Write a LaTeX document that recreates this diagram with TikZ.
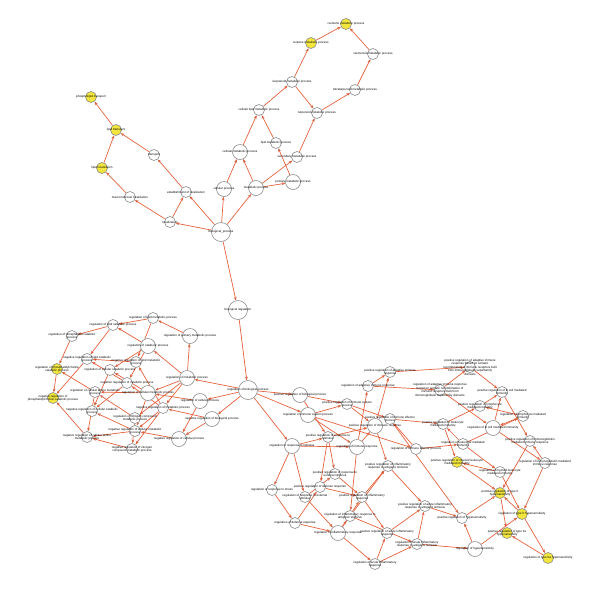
\documentclass[tikz,border=0pt]{standalone}
\usepackage{fontspec}
\setmainfont{Liberation Sans}
\usepackage{tikz}
\usetikzlibrary{arrows.meta, backgrounds}
\definecolor{edgered}{RGB}{228,98,62}
\definecolor{hityellow}{RGB}{242,230,62}
\definecolor{ringgray}{RGB}{140,140,140}

\begin{document}
\begin{tikzpicture}[x=1pt, y=-1pt,
    term/.style={circle, draw=ringgray, fill=white, line width=0.6pt, minimum size=11pt, inner sep=0pt},
    hub/.style={term, minimum size=15pt},
    bighub/.style={term, minimum size=19pt},
    hit/.style={term, fill=hityellow},
    lbl/.style={font=\fontsize{3.0}{3.5}\selectfont, align=center, inner sep=0pt},
    arrow/.style={draw=edgered, line width=0.7pt, -{Stealth[length=3.6pt, width=2.8pt]}}
]
\useasboundingbox (0,0) rectangle (600,590);

% Upper part: processes, localization and metabolism
\node[bighub, label={[lbl]center:biological\_process}] (bp) at (221,232) {};
\node[bighub, label={[lbl]center:biological regulation}] (br) at (238,310) {};
\node[term, label={[lbl]center:localization}] (loc) at (170,222) {};
\node[term, label={[lbl]center:establishment of localization}] (eloc) at (186,192) {};
\node[term, label={[lbl]center:macromolecule localization}] (mloc) at (130,197) {};
\node[term, label={[lbl]center:transport}] (tr) at (154,155) {};
\node[hit, label={[lbl]center:lipid localization}] (lloc) at (102,168) {};
\node[hit, label={[lbl]center:lipid transport}] (ltr) at (116,130) {};
\node[hit, label={[lbl]center:phospholipid transport}] (pltr) at (91,97) {};
\node[hub, label={[lbl]center:cellular process}] (cp) at (224,189) {};
\node[hub, label={[lbl]center:metabolic process}] (mp) at (256,188) {};
\node[hub, label={[lbl]center:cellular metabolic process}] (cmp) at (240,152) {};
\node[hub, label={[lbl]center:primary metabolic process}] (pmp) at (293,182) {};
\node[term, label={[lbl]center:secondary metabolic process}] (smp) at (297,157) {};
\node[term, label={[lbl]center:lipid metabolic process}] (lmp) at (276,143) {};
\node[term, label={[lbl]center:cellular lipid metabolic process}] (clmp) at (259,110) {};
\node[term, label={[lbl]center:isoprenoid metabolic process}] (iso) at (292,82) {};
\node[term, label={[lbl]center:terpenoid metabolic process}] (terp) at (317,113) {};
\node[term, label={[lbl]center:tetraterpenoid metabolic process}] (tetra) at (355,90) {};
\node[term, label={[lbl]center:carotenoid metabolic process}] (carnoid) at (373,54) {};
\node[hit, label={[lbl]center:terpene metabolic process}] (terpene) at (311,43) {};
\node[hit, label={[lbl]center:carotene metabolic process}] (carot) at (346,24) {};

% Left part: regulation of metabolism
\node[bighub, label={[lbl]center:regulation of biological process}] (rbp) at (248,390) {};
\node[hub, label={[lbl]center:regulation of metabolic process}] (rmp) at (187,378) {};
\node[hub, label={[lbl]center:regulation of cellular process}] (rcp) at (200,401) {};
\node[hub, label={[lbl]center:negative regulation of biological process}] (nrbp) at (212,419) {};
\node[hub, label={[lbl]center:negative regulation of cellular process}] (nrcp) at (179,439) {};
\node[hub, label={[lbl]center:regulation of primary metabolic process}] (rpmp) at (190,336) {};
\node[term, label={[lbl]center:regulation of lipid metabolic process}] (rlmp) at (153,318) {};
\node[term, label={[lbl]center:regulation of lipid catabolic process}] (rlcp) at (113,325) {};
\node[hub, label={[lbl]center:regulation of catabolic process}] (rcatp) at (148,346) {};
\node[term, label={[lbl]center:regulation of phospholipid catabolic\\process}] (rplcp) at (72,336) {};
\node[hit, label={[lbl]center:regulation of phosphatidylcholine\\catabolic process}] (rpccp) at (57,369) {};
\node[hit, label={[lbl]center:negative regulation of\\phosphatidylcholine catabolic process}] (nrpccp) at (53,398) {};
\node[term, label={[lbl]center:negative regulation of lipid catabolic\\process}] (nrlcp) at (87,359) {};
\node[term, label={[lbl]center:negative regulation of lipid metabolic\\process}] (nrlmp) at (136,362) {};
\node[term, label={[lbl]center:regulation of cellular catabolic process}] (rccatp) at (110,370) {};
\node[term, label={[lbl]center:negative regulation of catabolic process}] (nrcatp) at (127,383) {};
\node[term, label={[lbl]center:regulation of cellular amine metabolic\\process}] (rcamp) at (95,392) {};
\node[hub, label={[lbl]center:regulation of cellular metabolic process}] (rcmp) at (148,393) {};
\node[term, label={[lbl]center:negative regulation of metabolic process}] (nrmp) at (163,408) {};
\node[term, label={[lbl]center:negative regulation of cellular catabolic\\process}] (nrccatp) at (92,411) {};
\node[term, label={[lbl]center:regulation of nitrogen compound\\metabolic process}] (rncmp) at (135,418) {};
\node[term, label={[lbl]center:negative regulation of cellular metabolic\\process}] (nrcmp) at (135,431) {};
\node[term, label={[lbl]center:negative regulation of cellular amine\\metabolic process}] (nrcamp) at (87,437) {};
\node[term, label={[lbl]center:negative regulation of nitrogen\\compound metabolic process}] (nrncmp) at (132,449) {};

% Right part: regulation of immune and inflammatory responses
\node[hub, label={[lbl]center:positive regulation of biological process}] (prbp) at (300,395) {};
\node[hub, label={[lbl]center:regulation of immune system process}] (risp) at (308,415) {};
\node[term, label={[lbl]center:positive regulation of immune system\\process}] (pisp) at (347,404) {};
\node[term, label={[lbl]center:regulation of adaptive immune response}] (raim) at (368,386) {};
\node[term, label={[lbl]center:positive regulation of adaptive immune\\response}] (paim) at (390,372) {};
\node[term, label={[lbl]center:positive regulation of adaptive immune\\response based on somatic\\recombination of immune receptors built\\from immunoglobulin superfamily\\domains}] (pasr) at (470,367) {};
\node[term, label={[lbl]center:regulation of adaptive immune response\\based on somatic recombination of\\immune receptors built from\\immunoglobulin superfamily domains}] (rasr) at (440,390) {};
\node[term, label={[lbl]center:positive regulation of B cell mediated\\immunity}] (pbcell) at (502,392) {};
\node[term, label={[lbl]center:positive regulation of lymphocyte\\mediated immunity}] (plym) at (480,406) {};
\node[term, label={[lbl]center:regulation of lymphocyte mediated\\immunity}] (rlym) at (523,416) {};
\node[term, label={[lbl]center:positive regulation of leukocyte\\mediated immunity}] (pleuk) at (443,424) {};
\node[hub, label={[lbl]center:regulation of B cell mediated immunity}] (rbcell) at (493,428) {};
\node[term, label={[lbl]center:positive regulation of immunoglobulin\\mediated immune response}] (pig) at (530,441) {};
\node[term, label={[lbl]center:regulation of leukocyte mediated\\immunity}] (rleuk) at (463,444) {};
\node[term, label={[lbl]center:regulation of immune effector process}] (riep) at (416,449) {};
\node[hub, label={[lbl]center:positive regulation of immune response}] (pimr) at (375,426) {};
\node[term, label={[lbl]center:positive regulation of immune effector\\process}] (piep) at (390,419) {};
\node[term, label={[lbl]center:positive regulation of response to\\stimulus}] (prs) at (328,437) {};
\node[hub, label={[lbl]center:regulation of response to stimulus}] (rrs) at (292,446) {};
\node[hub, label={[lbl]center:regulation of immune response}] (rimr) at (357,447) {};
\node[term, label={[lbl]center:regulation of immunoglobulin mediated\\immune response}] (rig) at (545,463) {};
\node[hit, label={[lbl]center:positive regulation of myeloid leukocyte\\mediated immunity}] (pmyel) at (457,462) {};
\node[term, label={[lbl]center:regulation of myeloid leukocyte\\mediated immunity}] (rmyel) at (500,472) {};
\node[hit, label={[lbl]center:positive regulation of type II\\hypersensitivity}] (pt2) at (500,493) {};
\node[hit, label={[lbl]center:regulation of type II hypersensitivity}] (rt2) at (522,514) {};
\node[term, label={[lbl]center:positive regulation of hypersensitivity}] (phyp) at (462,518) {};
\node[hit, label={[lbl]center:positive regulation of type IIa\\hypersensitivity}] (pt2a) at (507,533) {};
\node[hub, label={[lbl]center:regulation of hypersensitivity}] (rhyp) at (475,549) {};
\node[hit, label={[lbl]center:regulation of type IIa hypersensitivity}] (rt2a) at (548,558) {};
\node[term, label={[lbl]center:positive regulation of inflammatory\\response to antigenic stimulus}] (pirasa) at (388,466) {};
\node[term, label={[lbl]center:positive regulation of response to\\external stimulus}] (prext) at (335,474) {};
\node[term, label={[lbl]center:regulation of response to stress}] (rrstress) at (272,490) {};
\node[term, label={[lbl]center:positive regulation of defense response}] (pdef) at (320,487) {};
\node[term, label={[lbl]center:regulation of response to external\\stimulus}] (rrext) at (305,497) {};
\node[term, label={[lbl]center:positive regulation of inflammatory\\response}] (pir) at (362,497) {};
\node[term, label={[lbl]center:positive regulation of acute inflammatory\\response to antigenic stimulus}] (pairasa) at (425,506) {};
\node[term, label={[lbl]center:regulation of inflammatory response to\\antigenic stimulus}] (rirasa) at (350,516) {};
\node[term, label={[lbl]center:regulation of defense response}] (rdef) at (295,523) {};
\node[hub, label={[lbl]center:regulation of inflammatory response}] (rir) at (338,533) {};
\node[term, label={[lbl]center:positive regulation of acute inflammatory\\response}] (pair) at (387,533) {};
\node[term, label={[lbl]center:regulation of acute inflammatory\\response to antigenic stimulus}] (rairasa) at (417,544) {};
\node[term, label={[lbl]center:regulation of acute inflammatory\\response}] (rair) at (375,564) {};

% Connectors, parent to child, kept under the nodes
\begin{scope}[on background layer]
\draw[arrow] (bp) edge (loc) edge (eloc) edge (cp) edge (mp) edge (br);
\draw[arrow] (loc) edge (eloc) edge (mloc);
\draw[arrow] (eloc) edge (tr);
\draw[arrow] (mloc) edge (lloc);
\draw[arrow] (tr) edge (ltr);
\draw[arrow] (lloc) edge (ltr);
\draw[arrow] (ltr) edge (pltr);
\draw[arrow] (cp) edge (cmp);
\draw[arrow] (mp) edge (cmp) edge (pmp) edge (smp);
\draw[arrow] (cmp) edge (clmp);
\draw[arrow] (pmp) edge (lmp);
\draw[arrow] (lmp) edge (clmp);
\draw[arrow] (clmp) edge (iso);
\draw[arrow] (iso) edge (terpene) edge (terp);
\draw[arrow] (smp) edge (terp);
\draw[arrow] (terp) edge (tetra);
\draw[arrow] (tetra) edge (carnoid);
\draw[arrow] (carnoid) edge (carot);
\draw[arrow] (terpene) edge (carot);
\draw[arrow] (br) edge (rbp);
\draw[arrow] (rbp) edge (rmp) edge (rcp) edge (nrbp) edge (prbp) edge (risp) edge (rrs);
\draw[arrow] (rcp) edge (rcmp) edge (nrcp);
\draw[arrow] (nrbp) edge (nrcp) edge (nrmp);
\draw[arrow] (rmp) edge (rpmp) edge (rcatp) edge (rcmp) edge (nrmp) edge (rncmp);
\draw[arrow] (rpmp) edge (rlmp);
\draw[arrow] (rlmp) edge (rlcp) edge (nrlmp);
\draw[arrow] (rcatp) edge (rlcp) edge (rccatp) edge (nrcatp);
\draw[arrow] (rlcp) edge (rplcp) edge (nrlcp);
\draw[arrow] (rplcp) edge (rpccp);
\draw[arrow] (rpccp) edge (nrpccp);
\draw[arrow] (nrlcp) edge (nrpccp);
\draw[arrow] (nrlmp) edge (nrlcp);
\draw[arrow] (rccatp) edge (nrccatp);
\draw[arrow] (nrcatp) edge (nrlcp) edge (nrccatp);
\draw[arrow] (rcmp) edge (rccatp) edge (rcamp) edge (nrcmp);
\draw[arrow] (rcamp) edge (nrcamp) edge (rpccp);
\draw[arrow] (rncmp) edge (rcamp) edge (nrncmp);
\draw[arrow] (nrmp) edge (nrcatp) edge (nrlmp) edge (nrcmp) edge (nrncmp);
\draw[arrow] (nrcp) edge (nrcmp);
\draw[arrow] (nrcmp) edge (nrccatp) edge (nrcamp);
\draw[arrow] (nrncmp) edge (nrcamp);
\draw[arrow] (nrcamp) edge (nrpccp);
\draw[arrow] (prbp) edge (pisp) edge (prs);
\draw[arrow] (risp) edge (pisp) edge (rimr) edge (riep);
\draw[arrow] (pisp) edge (pimr) edge (piep);
\draw[arrow] (rrs) edge (rrstress) edge (rrext) edge (prs) edge (rimr);
\draw[arrow] (prs) edge (prext) edge (pimr) edge (pdef);
\draw[arrow] (rimr) edge (raim) edge (pimr) edge (rirasa);
\draw[arrow] (pimr) edge (paim) edge (pirasa);
\draw[arrow] (raim) edge (paim) edge (rasr);
\draw[arrow] (paim) edge (pasr);
\draw[arrow] (rasr) edge (pasr) edge (rbcell);
\draw[arrow] (riep) edge (rleuk) edge (piep);
\draw[arrow] (piep) edge (pleuk) edge (phyp);
\draw[arrow] (rleuk) edge (rlym) edge (rmyel) edge (pleuk);
\draw[arrow] (pleuk) edge (plym) edge (pmyel);
\draw[arrow] (rlym) edge (rbcell) edge (plym);
\draw[arrow] (plym) edge (pbcell);
\draw[arrow] (pasr) edge (pbcell);
\draw[arrow] (rbcell) edge (pbcell) edge (rig);
\draw[arrow] (pbcell) edge (pig);
\draw[arrow] (rig) edge (pig) edge (rt2);
\draw[arrow] (pig) edge (pt2);
\draw[arrow] (rmyel) edge (pmyel) edge (rt2);
\draw[arrow] (pmyel) edge (pt2);
\draw[arrow] (rt2) edge (pt2) edge (rt2a);
\draw[arrow] (pt2) edge (pt2a);
\draw[arrow] (rt2a) edge (pt2a);
\draw[arrow] (rhyp) edge (phyp) edge (rt2);
\draw[arrow] (phyp) edge (pt2);
\draw[arrow] (rrstress) edge (rdef);
\draw[arrow] (rrext) edge (rir) edge (prext);
\draw[arrow] (prext) edge (pir);
\draw[arrow] (rdef) edge (rir) edge (pdef);
\draw[arrow] (pdef) edge (pir);
\draw[arrow] (rir) edge (rair) edge (pir) edge (rirasa);
\draw[arrow] (pir) edge (pair) edge (pirasa);
\draw[arrow] (rirasa) edge (rairasa) edge (pirasa);
\draw[arrow] (pirasa) edge (pairasa);
\draw[arrow] (rair) edge (rairasa) edge (pair);
\draw[arrow] (pair) edge (pairasa);
\draw[arrow] (rairasa) edge (rhyp) edge (pairasa);
\draw[arrow] (pairasa) edge (phyp);
\end{scope}

\end{tikzpicture}
\end{document}
